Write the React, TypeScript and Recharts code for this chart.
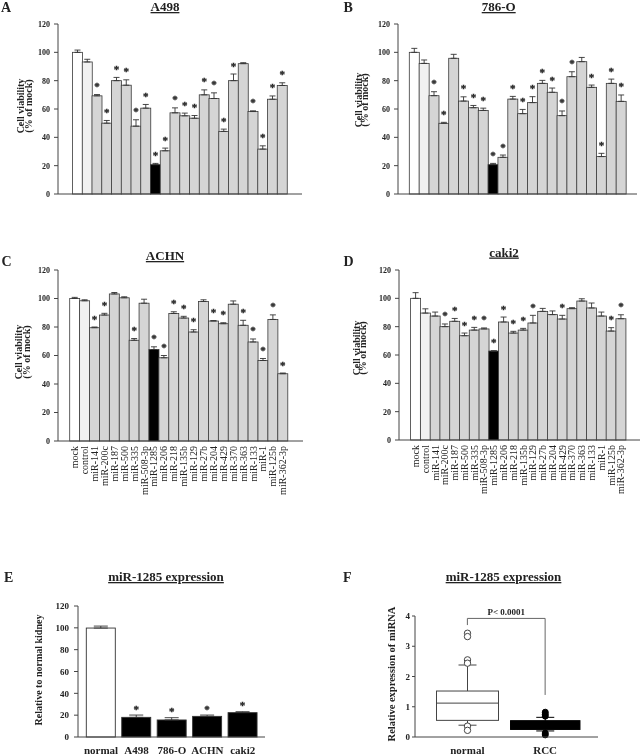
import React from 'react';
import { BarChart, Bar, XAxis, YAxis, ErrorBar, ComposedChart, ReferenceLine } from 'recharts';

const FONT = '"Liberation Serif", "Times New Roman", serif';

// miRNA transfectants, same order in every viability panel
const mirNames = [
  'mock', 'control', 'miR-141', 'miR-200c', 'miR-187', 'miR-500', 'miR-335', 'miR-508-3p',
  'miR-1285', 'miR-206', 'miR-218', 'miR-135b', 'miR-129', 'miR-27b', 'miR-204', 'miR-429',
  'miR-370', 'miR-363', 'miR-133', 'miR-1', 'miR-125b', 'miR-362-3p',
];
const viabilityTicks = [0, 20, 40, 60, 80, 100, 120];

const a498Values = [100, 93.2, 69.3, 50, 80, 76.8, 47.9, 60.6, 20.7, 30.5, 57.3, 55.2, 53.5, 70, 67.4, 44.2, 80, 92, 58.2, 31.7, 66.9, 76.6];
const a498Errors = [1.6, 1.9, 0.9, 1.9, 2.3, 3.8, 4.5, 2.6, 0.9, 1.9, 3.5, 1.9, 1.9, 3.5, 4, 1.6, 4.7, 0.7, 0.5, 2.3, 2.3, 1.9];
const a498Stars = [0, 0, 1, 1, 1, 1, 1, 1, 1, 1, 1, 1, 1, 1, 1, 1, 1, 0, 1, 1, 1, 1];

const o786Values = [100, 92.2, 69.4, 49.9, 95.8, 65.6, 60.9, 59, 20.7, 25.9, 67, 56.7, 64.5, 78.1, 71.8, 55.3, 82.8, 93.4, 75.3, 26.4, 78.1, 65.4];
const o786Errors = [2.8, 2.4, 2.8, 0.7, 2.8, 3, 1.6, 1.6, 0.9, 1.6, 1.9, 3, 4.2, 2.1, 3, 3.3, 3.5, 3, 1.6, 2.3, 3, 4.5];
const o786Stars = [0, 0, 1, 1, 0, 1, 1, 1, 1, 1, 1, 1, 1, 1, 1, 1, 1, 0, 1, 1, 1, 1];

const achnValues = [100, 98.4, 79.5, 88.4, 103.2, 100.5, 70.7, 96.7, 64.2, 58.4, 89.5, 86.3, 76.5, 97.9, 84.2, 82.3, 96, 81.2, 69.5, 56.5, 85.3, 47.2];
const achnErrors = [0.8, 0.7, 0.5, 1.2, 1, 0.7, 1.2, 2.8, 1.9, 1.6, 1.2, 1.2, 1.6, 1.2, 0.3, 0.7, 2.3, 3.5, 2.1, 1.4, 3.2, 0.5];
const achnStars = [0, 0, 1, 1, 0, 0, 1, 0, 1, 1, 1, 1, 1, 0, 1, 1, 0, 1, 1, 1, 1, 1];

const caki2Values = [100, 89.6, 87.5, 80, 83.8, 73.6, 77.6, 78.4, 62.8, 83.3, 75.5, 77.6, 82.6, 90.8, 88.5, 85.4, 92.7, 98.1, 93.2, 87.5, 76.9, 85.6];
const caki2Errors = [4, 3, 2.8, 1.9, 2, 1.9, 1.9, 0.7, 0.2, 3.5, 1.2, 1.2, 5.4, 2.1, 2.6, 2.6, 0.7, 1.6, 3.5, 2.8, 2.4, 2.8];
const caki2Stars = [0, 0, 0, 1, 1, 1, 1, 1, 1, 1, 1, 1, 1, 0, 0, 1, 0, 0, 0, 0, 1, 1];

// panel E
const cellLines = ['normal', 'A498', '786-O', 'ACHN', 'caki2'];
const expressionValues = [99.8, 18, 15.6, 18.9, 22.3];
const expressionErrors = [1.8, 2.1, 2.1, 1.2, 0.9];
const expressionStars = [0, 1, 1, 1, 1];
const expressionTicks = [0, 20, 40, 60, 80, 100, 120];

// panel F (box plot)
const boxGroups = ['normal', 'RCC'];
const boxQ1 = [0.55, 0.25];
const boxMedian = [1.12, 0.4];
const boxQ3 = [1.52, 0.54];
const whiskerLow = [0.39, 0.2];
const whiskerHigh = [2.38, 0.65];
const boxOutliers = [
  [3.43, 3.32, 2.55, 2.44, 0.36, 0.22],
  [0.82, 0.75, 0.69, 0.13, 0.07],
];
const boxTicks = [0, 1, 2, 3, 4];
const bracketTop = 3.92;
const bracketLeftEnd = 3.7;
const bracketRightEnd = 1.39;
const pValueText = 'P< 0.0001';

const barFill = (name: string, i: number) => {
  if (i === 0) return '#ffffff';
  if (i === 1) return '#f1f1f1';
  if (name === 'miR-1285') return '#000000';
  return '#d5d5d5';
};

const Star = ({ x, y }: { x: number; y: number }) => (
  <text x={x} y={y} textAnchor="middle" fontSize={11} fontWeight="bold" fontFamily={FONT}
    fill="#222" stroke="#222" strokeWidth={0.3}>*</text>
);

const ViabilityShape = (props: any) => {
  const { x, y, width, height, payload, index } = props;
  const ppu = payload.value ? height / payload.value : 0;
  const errTop = y - payload.sd * ppu;
  return (
    <g>
      <rect x={x} y={y} width={width} height={height} fill={barFill(payload.name, index)} stroke="#3a3a3a" strokeWidth={0.8} />
      {payload.star ? <Star x={x + width / 2} y={errTop - 4.5} /> : null}
    </g>
  );
};

const ExpressionShape = (props: any) => {
  const { x, y, width, height, payload, index } = props;
  const ppu = payload.value ? height / payload.value : 0;
  const errTop = y - payload.sd * ppu;
  return (
    <g>
      <rect x={x} y={y} width={width} height={height} fill={index === 0 ? '#ffffff' : '#000000'} stroke="#333" strokeWidth={0.9} />
      {payload.star ? <Star x={x + width / 2} y={errTop - 2.5} /> : null}
    </g>
  );
};

const NameTick = (props: any) => {
  const { x, y, payload } = props;
  return (
    <text x={x} y={y} transform={`rotate(-90 ${x} ${y})`} textAnchor="end" dominantBaseline="central"
      fontFamily={FONT} fontSize={10} fill="#222">
      {payload.value}
    </text>
  );
};

type PanelProps = {
  values: number[];
  errors: number[];
  stars: number[];
  showNames: boolean;
  left: number;
  top: number;
  width: number;
  height: number;
  margin: { top: number; right: number; bottom: number; left: number };
  yWidth: number;
  xHeight: number;
  pad: { left: number; right: number };
};

// layer wrapper: gray-scale text anti-aliasing
const layer = (left: number, top: number): React.CSSProperties => ({ position: 'absolute', left, top, willChange: 'transform' });

const ViabilityPanel = (p: PanelProps) => {
  const data = mirNames.map((name, i) => ({
    name,
    value: p.values[i],
    sd: p.errors[i],
    errRange: [0, p.errors[i]],
    star: p.stars[i],
  }));
  return (
    <div style={layer(p.left, p.top)}>
      <BarChart width={p.width} height={p.height} data={data} margin={p.margin} barCategoryGap={0} barGap={0}>
        <XAxis dataKey="name" type="category" interval={0} padding={p.pad} height={p.xHeight}
          axisLine={{ stroke: '#444' }} tickLine={false} tickSize={3} tickMargin={2}
          tick={p.showNames ? <NameTick /> : false} />
        <YAxis domain={[0, 120]} ticks={viabilityTicks} width={p.yWidth} axisLine={{ stroke: '#444' }}
          tickLine={{ stroke: '#444' }} tickSize={4} tickMargin={4}
          tick={{ fontSize: 8, fontWeight: 'bold', fontFamily: FONT, fill: '#222' }} />
        <Bar dataKey="value" shape={<ViabilityShape />} isAnimationActive={false}>
          <ErrorBar dataKey="errRange" direction="y" width={3} stroke="#333" strokeWidth={0.9} />
        </Bar>
      </BarChart>
    </div>
  );
};

const BoxShape = (props: any) => {
  const { x, width, y, height, payload, index } = props;
  const q1 = payload.q1;
  const q3 = payload.q3;
  const ppu = height / (q3 - q1);
  const py = (v: number) => y + (q3 - v) * ppu;
  const dark = index === 1;
  const cx = x + width / 2;
  const w = dark ? width * 1.12 : width;
  const stroke = dark ? '#000' : '#444';
  return (
    <g>
      <line x1={cx} x2={cx} y1={py(q3)} y2={py(payload.hi)} stroke={stroke} strokeWidth={1} />
      <line x1={cx - 9} x2={cx + 9} y1={py(payload.hi)} y2={py(payload.hi)} stroke={stroke} strokeWidth={1} />
      <line x1={cx} x2={cx} y1={py(q1)} y2={py(payload.lo)} stroke={stroke} strokeWidth={1} />
      <line x1={cx - 9} x2={cx + 9} y1={py(payload.lo)} y2={py(payload.lo)} stroke={stroke} strokeWidth={1} />
      <rect x={cx - w / 2} y={y} width={w} height={height} fill={dark ? '#000' : '#fff'} stroke={stroke} strokeWidth={1} />
      <line x1={cx - w / 2} x2={cx + w / 2} y1={py(payload.median)} y2={py(payload.median)} stroke={dark ? '#000' : '#444'} strokeWidth={1} />
      {payload.outliers.map((v: number, k: number) => (
        <circle key={k} cx={cx} cy={py(v)} r={dark ? 3 : 3.2} fill={dark ? '#000' : '#fff'} stroke={stroke} strokeWidth={1} />
      ))}
    </g>
  );
};

const titleStyle = { fontFamily: FONT, fontWeight: 'bold' as const, fontSize: 13, fill: '#222', textDecoration: 'underline' };
const letterStyle = { fontFamily: FONT, fontWeight: 'bold' as const, fontSize: 14, fill: '#222' };

// vertical axis title, centred on (x, cy)
const VLabel = ({ x, cy, size, children }: { x: number; cy: number; size: number; children: string }) => (
  <div style={{
    position: 'absolute', left: x, top: cy, transform: 'translate(-50%, -50%) rotate(-90deg)',
    whiteSpace: 'nowrap', fontFamily: FONT, fontWeight: 'bold', fontSize: size, lineHeight: 1, color: '#222',
  }}>
    {children}
  </div>
);

export default function App() {
  const expressionData = cellLines.map((name, i) => ({
    name,
    value: expressionValues[i],
    sd: expressionErrors[i],
    errRange: [0, expressionErrors[i]],
    star: expressionStars[i],
  }));
  const boxData = boxGroups.map((name, i) => ({
    name,
    box: [boxQ1[i], boxQ3[i]],
    q1: boxQ1[i],
    q3: boxQ3[i],
    median: boxMedian[i],
    lo: whiskerLow[i],
    hi: whiskerHigh[i],
    outliers: boxOutliers[i],
  }));

  return (
    <div style={{ position: 'absolute', left: 0, top: 0, width: 644, height: 756, background: '#fff', overflow: 'hidden' }}>
      <ViabilityPanel values={a498Values} errors={a498Errors} stars={a498Stars} showNames={false}
        left={0} top={0} width={310} height={200} margin={{ top: 24, right: 8, bottom: 1, left: 0 }}
        yWidth={58} xHeight={5} pad={{ left: 14.5, right: 15 }} />
      <ViabilityPanel values={o786Values} errors={o786Errors} stars={o786Stars} showNames={false}
        left={322} top={0} width={320} height={200} margin={{ top: 24, right: 5, bottom: 1, left: 0 }}
        yWidth={76} xHeight={5} pad={{ left: 11.3, right: 11 }} />
      <ViabilityPanel values={achnValues} errors={achnErrors} stars={achnStars} showNames
        left={0} top={250} width={310} height={270} margin={{ top: 20, right: 7, bottom: 9, left: 0 }}
        yWidth={58} xHeight={70} pad={{ left: 11.7, right: 15.3 }} />
      <ViabilityPanel values={caki2Values} errors={caki2Errors} stars={caki2Stars} showNames
        left={322} top={250} width={322} height={270} margin={{ top: 20, right: 4, bottom: 10, left: 0 }}
        yWidth={77} xHeight={70} pad={{ left: 11.6, right: 14.3 }} />

      <div style={layer(0, 590)}>
        <BarChart width={280} height={166} data={expressionData} margin={{ top: 16, right: 15, bottom: 0, left: 0 }}>
          <XAxis dataKey="name" type="category" interval={0} padding={{ left: 5.3, right: 4.5 }} height={19}
            axisLine={{ stroke: '#444' }} tickLine={false} tickMargin={3}
            tick={{ fontSize: 11, fontWeight: 'bold', fontFamily: FONT, fill: '#222' }} />
          <YAxis domain={[0, 120]} ticks={expressionTicks} width={78} axisLine={{ stroke: '#444' }}
            tickLine={{ stroke: '#444' }} tickSize={4} tickMargin={5}
            tick={{ fontSize: 9, fontWeight: 'bold', fontFamily: FONT, fill: '#222' }} />
          <Bar dataKey="value" barSize={29} shape={<ExpressionShape />} isAnimationActive={false}>
            <ErrorBar dataKey="errRange" direction="y" width={7} stroke="#333" strokeWidth={0.9} />
          </Bar>
        </BarChart>
      </div>

      <div style={layer(322, 590)}>
        <ComposedChart width={290} height={166} data={boxData} margin={{ top: 26, right: 14, bottom: 0, left: 0 }}>
          <XAxis dataKey="name" type="category" interval={0} padding={{ left: 13.5, right: 14 }} height={19}
            axisLine={{ stroke: '#444' }} tickLine={false} tickMargin={3}
            tick={{ fontSize: 11, fontWeight: 'bold', fontFamily: FONT, fill: '#222' }} />
          <YAxis domain={[0, 4]} ticks={boxTicks} width={93} axisLine={{ stroke: '#444' }}
            tickLine={{ stroke: '#444' }} tickSize={3} tickMargin={2}
            tick={{ fontSize: 9, fontWeight: 'bold', fontFamily: FONT, fill: '#222' }} />
          <ReferenceLine segment={[{ x: 'normal', y: bracketTop }, { x: 'RCC', y: bracketTop }]} stroke="#666"
            label={{ value: pValueText, position: 'top', offset: 3, fontSize: 9, fontWeight: 'bold', fontFamily: FONT, fill: '#222' }} />
          <ReferenceLine segment={[{ x: 'normal', y: bracketTop }, { x: 'normal', y: bracketLeftEnd }]} stroke="#666" />
          <ReferenceLine segment={[{ x: 'RCC', y: bracketTop }, { x: 'RCC', y: bracketRightEnd }]} stroke="#666" />
          <Bar dataKey="box" barSize={62} shape={<BoxShape />} isAnimationActive={false} />
        </ComposedChart>
      </div>

      <svg width={644} height={756} style={{ position: 'absolute', left: 0, top: 0, pointerEvents: 'none' }}>
        <text x={1} y={12} style={letterStyle}>A</text>
        <text x={165} y={11} textAnchor="middle" style={titleStyle}>A498</text>
        <text x={343.5} y={12} style={letterStyle}>B</text>
        <text x={498.7} y={11} textAnchor="middle" style={titleStyle}>786-O</text>
        <text x={1.5} y={266} style={letterStyle}>C</text>
        <text x={165} y={260} textAnchor="middle" style={titleStyle}>ACHN</text>
        <text x={343.5} y={266} style={letterStyle}>D</text>
        <text x={504} y={256.5} textAnchor="middle" style={titleStyle}>caki2</text>
        <text x={4} y={582} style={letterStyle}>E</text>
        <text x={166} y={581} textAnchor="middle" style={titleStyle}>miR-1285 expression</text>
        <text x={343} y={582} style={letterStyle}>F</text>
        <text x={503.5} y={581} textAnchor="middle" style={titleStyle}>miR-1285  expression</text>
      </svg>

      <VLabel x={21} cy={106} size={10}>Cell viability</VLabel>
      <VLabel x={28.5} cy={106} size={10}>(% of mock)</VLabel>
      <VLabel x={358.7} cy={100} size={10}>Cell viability</VLabel>
      <VLabel x={364.5} cy={100} size={10}>(% of mock)</VLabel>
      <VLabel x={19} cy={352} size={10}>Cell viability</VLabel>
      <VLabel x={26.5} cy={352} size={10}>(% of mock)</VLabel>
      <VLabel x={357} cy={348} size={10}>Cell viability</VLabel>
      <VLabel x={363} cy={348} size={10}>(% of mock)</VLabel>
      <VLabel x={38.5} cy={670} size={10}>Relative to normal kidney</VLabel>
      <VLabel x={392} cy={674} size={10.5}>Relative expression of miRNA</VLabel>
    </div>
  );
}
